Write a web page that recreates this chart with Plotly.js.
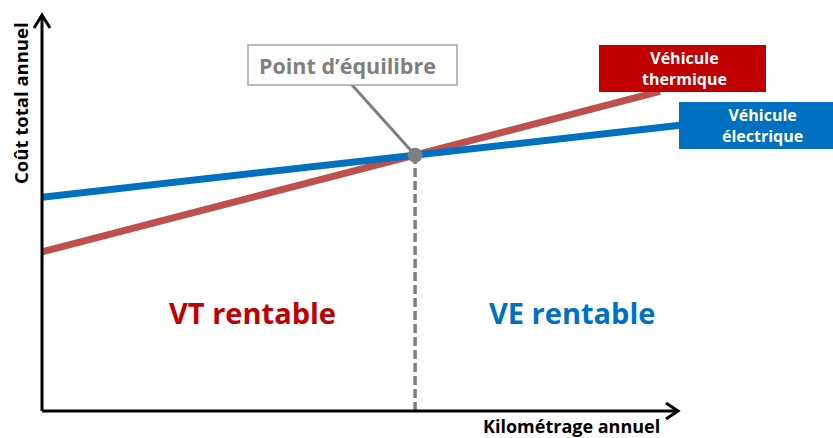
<!DOCTYPE html>
<html>
<head>
<meta charset="utf-8">
<script src="https://cdn.plot.ly/plotly-3.0.1.min.js"></script>
<style>html,body{margin:0;padding:0;background:#fff;overflow:hidden}#chart{width:833px;height:438px}</style>
</head>
<body>
<div id="chart"></div>
<script>
// ---- Data (arbitrary units) ----
const kilometrage_vt = [0, 56.7, 93.9];
const cout_vt = [40.2, 64.6, 80.7];
const kilometrage_ve = [0, 56.7, 97.3];
const cout_ve = [54.0, 64.6, 72.2];
const equilibre_x = [56.7];
const equilibre_y = [64.6];
const labels = {
  yTitle: "Coût total annuel",
  xTitle: "Kilométrage annuel",
  vt: "Véhicule<br>thermique",
  ve: "Véhicule<br>électrique",
  point: "Point d’équilibre",
  vtZone: "VT rentable",
  veZone: "VE rentable"
};

// ---- Layout geometry ----
const W = 833, H = 438, L = 42, R = 133, T = 15, B = 27;
const PW = W - L - R, PH = H - T - B;
const px = x => (x - L) / PW;            // pixel -> paper x
const py = y => (H - B - y) / PH;        // pixel -> paper y
const FONT = "Open Sans, sans-serif";
const GRAY = "#7f7f7f";

const traces = [
  { x: kilometrage_vt, y: cout_vt, mode: "lines", line: {color: "#c0504d", width: 7}, hoverinfo: "skip" },
  { x: kilometrage_ve, y: cout_ve, mode: "lines", line: {color: "#0070c0", width: 7}, hoverinfo: "skip" },
  { x: [equilibre_x[0], equilibre_x[0]], y: [0, equilibre_y[0]], mode: "lines",
    line: {color: GRAY, width: 3.5, dash: "9px,4px"}, hoverinfo: "skip" },
  { x: equilibre_x, y: equilibre_y, mode: "markers", marker: {color: GRAY, size: 15}, hoverinfo: "skip" }
];

const ax = {range: [0, 100], showgrid: false, zeroline: false, showticklabels: false,
            showline: false, ticks: "", fixedrange: true};

const shapes = [
  // connector from label box to the equilibrium point
  {type: "line", xref: "paper", yref: "paper", x0: px(352), y0: py(85), x1: px(415), y1: py(155),
   line: {color: GRAY, width: 3}, layer: "below"},
  // axes
  {type: "line", xref: "paper", yref: "paper", x0: 0, y0: 0, x1: 0, y1: 1, line: {color: "#000", width: 3}, layer: "above"},
  {type: "line", xref: "paper", yref: "paper", x0: 0, y0: 0, x1: px(678), y1: 0, line: {color: "#000", width: 3}, layer: "above"},
  {type: "path", xref: "paper", yref: "paper", xsizemode: "pixel", ysizemode: "pixel", xanchor: 0, yanchor: 1,
   path: "M-8,-13L0,0L8,-13", line: {color: "#000", width: 3}, layer: "above"},
  {type: "path", xref: "paper", yref: "paper", xsizemode: "pixel", ysizemode: "pixel", xanchor: px(678), yanchor: 0,
   path: "M-12,8L0,0L-12,-8", line: {color: "#000", width: 3}, layer: "above"},
  // label boxes
  {type: "rect", xref: "paper", yref: "paper", x0: px(248), x1: px(457), y0: py(85), y1: py(45),
   line: {color: "#a6a6a6", width: 1.5}, fillcolor: "#ffffff", layer: "above"},
  {type: "rect", xref: "paper", yref: "paper", x0: px(599), x1: px(766), y0: py(92), y1: py(45),
   line: {width: 0}, fillcolor: "#c00000", layer: "above"},
  {type: "rect", xref: "paper", yref: "paper", x0: px(679), x1: px(850), y0: py(149), y1: py(102),
   line: {width: 0}, fillcolor: "#0070c0", layer: "above"}
];

const ann = (text, x, y, size, color, extra) => Object.assign({
  text, xref: "paper", yref: "paper", x: px(x), y: py(y), xanchor: "center", yanchor: "middle",
  showarrow: false, font: {family: FONT, size, color, weight: 700}
}, extra || {});

const annotations = [
  ann(labels.yTitle, 20, 103, 18.5, "#000", {textangle: -90}),
  ann(labels.xTitle, 571, 425.5, 18, "#000"),
  ann(labels.point, 347, 65, 21.5, GRAY),
  ann(labels.vt, 684, 68.5, 16, "#ffffff"),
  ann(labels.ve, 762.5, 125.5, 16, "#ffffff"),
  ann(labels.vtZone, 252, 312, 29, "#c00000"),
  ann(labels.veZone, 572, 312, 29, "#0070c0")
];

const layout = {
  width: W, height: H, margin: {l: L, r: R, t: T, b: B, pad: 0},
  paper_bgcolor: "#ffffff", plot_bgcolor: "#ffffff", showlegend: false,
  xaxis: ax, yaxis: ax, shapes, annotations, font: {family: FONT}
};

Plotly.newPlot("chart", traces, layout, {displayModeBar: false, staticPlot: true});
</script>
</body>
</html>
